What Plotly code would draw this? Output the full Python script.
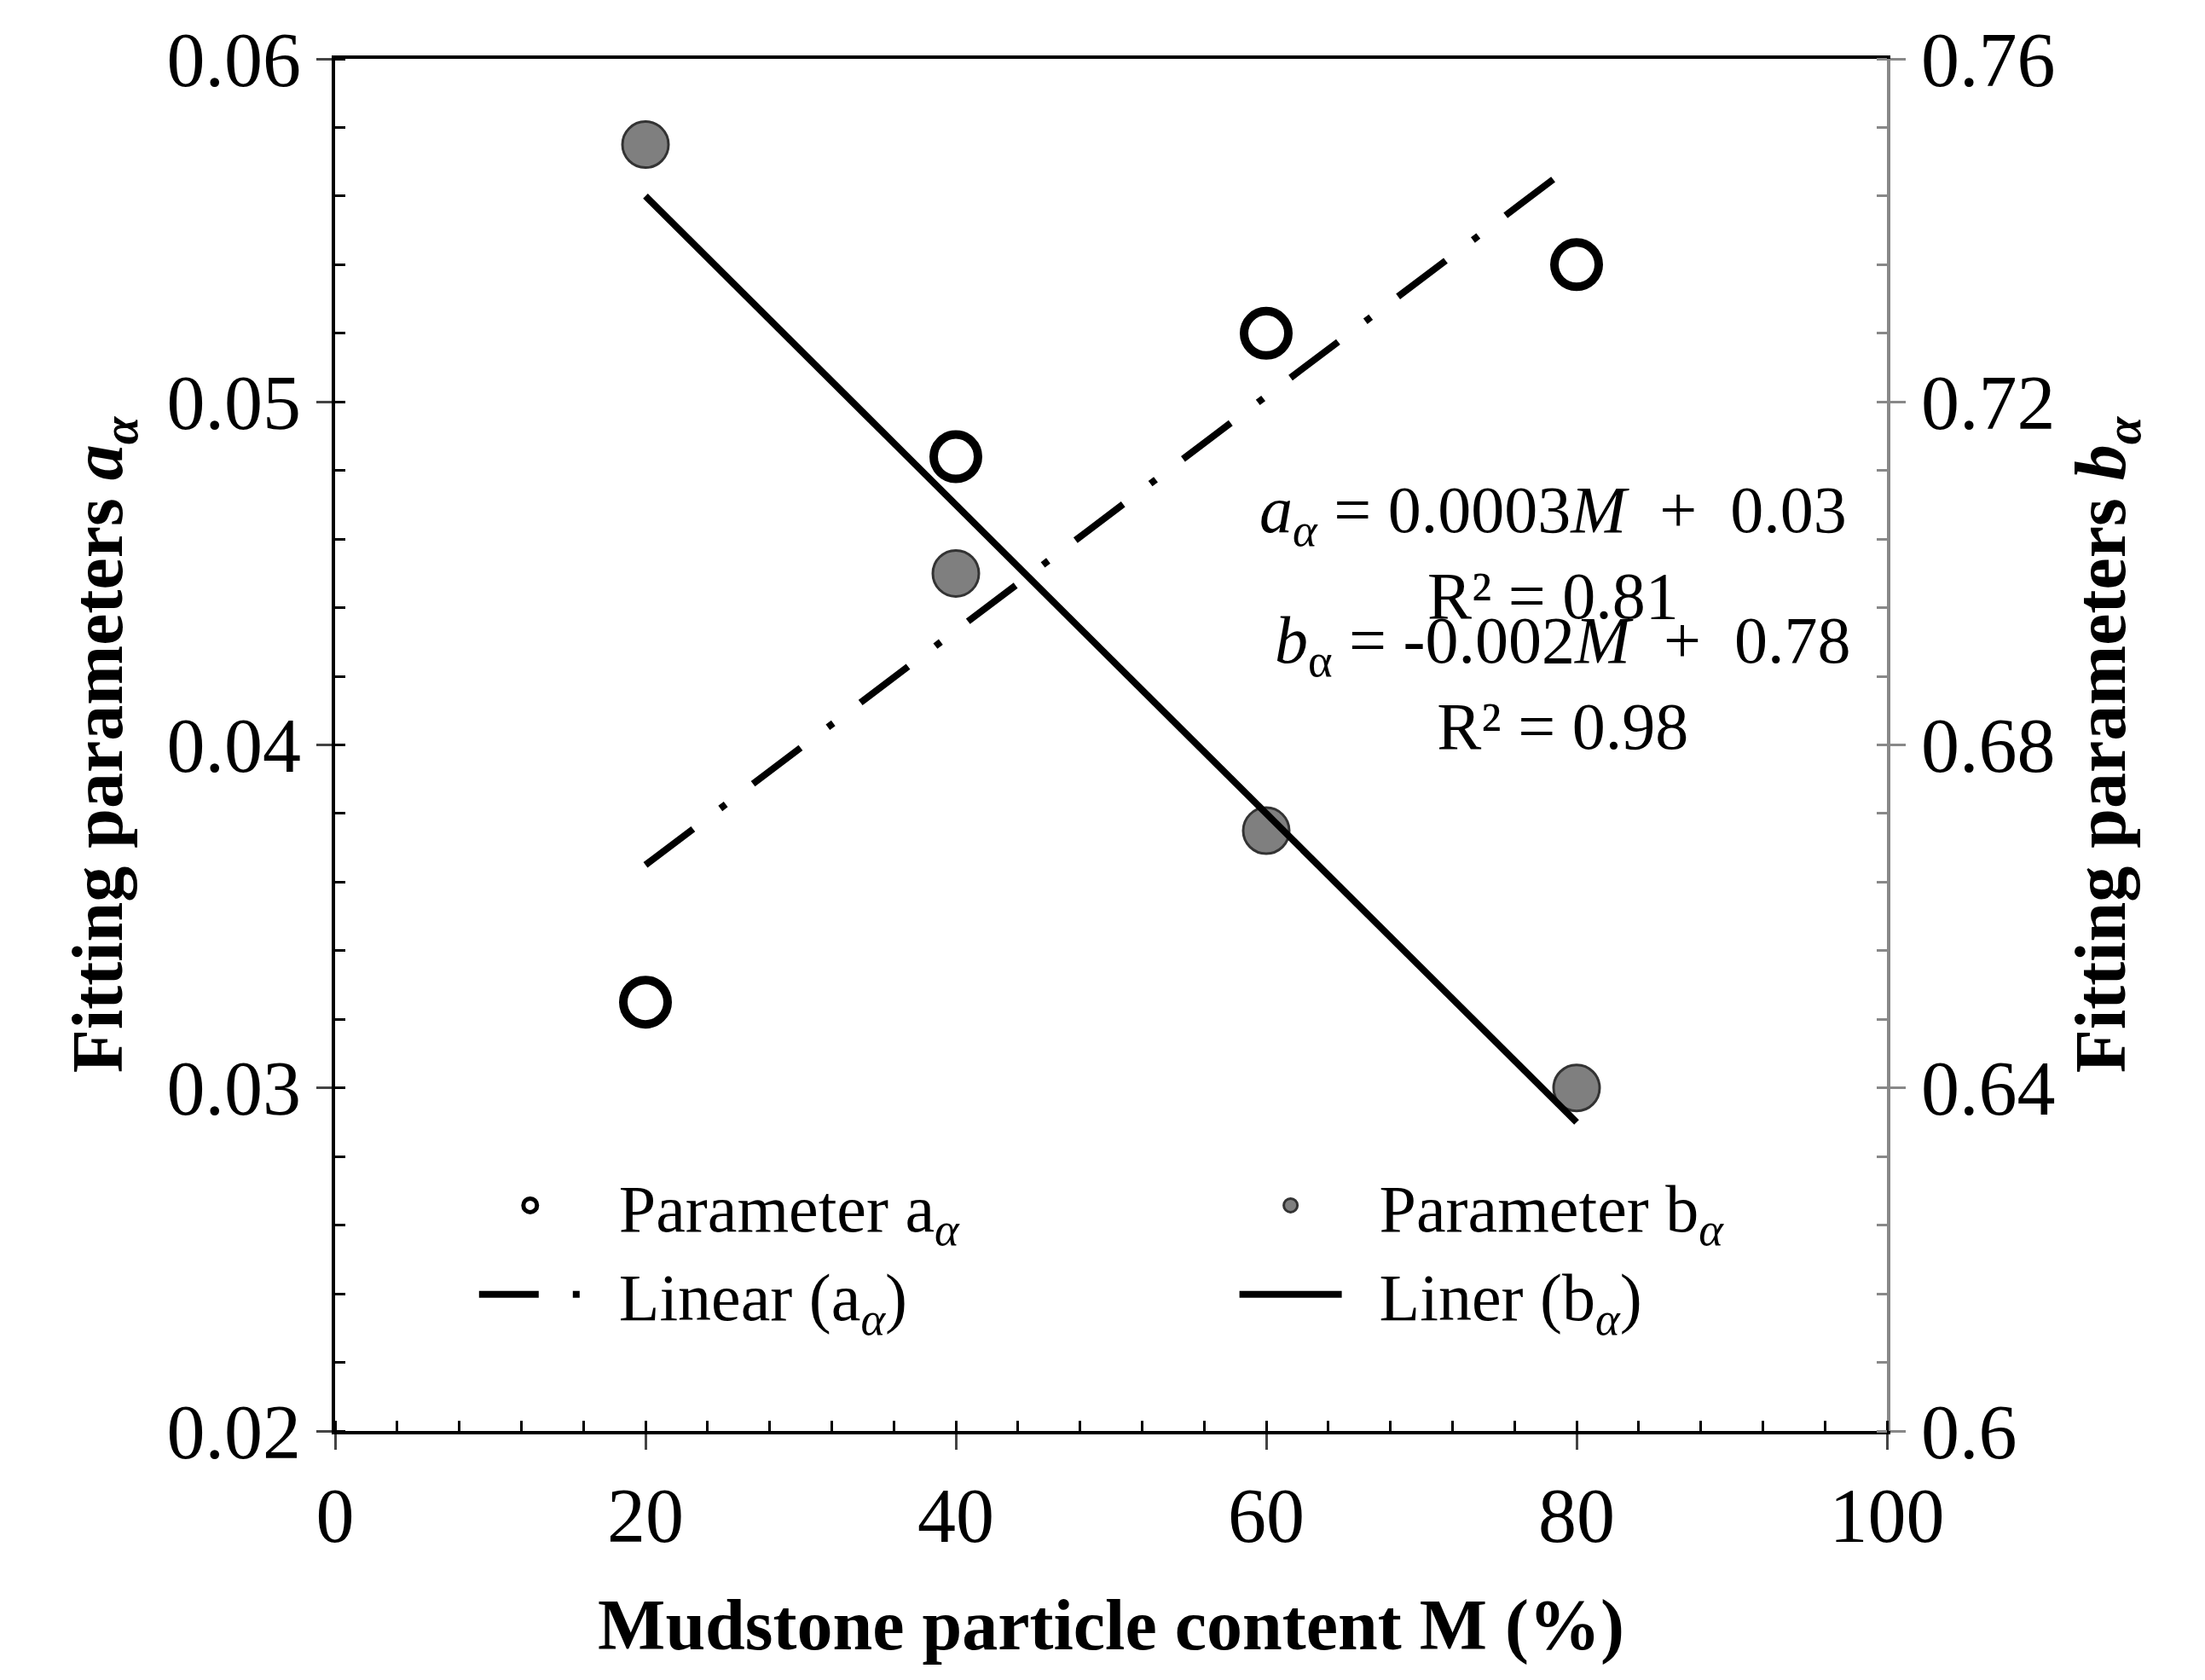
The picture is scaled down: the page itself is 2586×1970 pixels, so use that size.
import plotly.graph_objects as go

M = [20, 40, 60, 80]
a_vals = [0.0325, 0.0484, 0.052, 0.054]
b_vals = [0.750, 0.700, 0.670, 0.640]
fit_x = [20, 80]
a_fit = [0.0365, 0.057]
b_fit = [0.744, 0.636]

font = "Liberation Serif"
fig = go.Figure()
fig.add_trace(go.Scatter(x=M, y=a_vals, mode="markers", name="  Parameter a<sub><i>α</i></sub>",
                         marker=dict(size=52, color="white", line=dict(color="black", width=10))))
fig.add_trace(go.Scatter(x=M, y=b_vals, mode="markers", yaxis="y2", name="  Parameter b<sub><i>α</i></sub>",
                         marker=dict(size=54, color="#7f7f7f", line=dict(color="#333", width=3))))
fig.add_trace(go.Scatter(x=fit_x, y=a_fit, mode="lines", name="  Linear (a<sub><i>α</i></sub>)",
                         line=dict(color="black", width=8, dash="70px,40px,8px,40px")))
fig.add_trace(go.Scatter(x=fit_x, y=b_fit, mode="lines", yaxis="y2", name="  Liner (b<sub><i>α</i></sub>)",
                         line=dict(color="black", width=8)))

tick = dict(family=font, size=90, color="black")
title = dict(family=font, size=84, color="black", weight="bold")
fig.update_layout(
    width=2586, height=1970, plot_bgcolor="white", paper_bgcolor="white",
    margin=dict(l=385, r=381, t=55, b=300),
    font=dict(family=font, color="black"),
    xaxis=dict(range=[0, 100], dtick=20, showgrid=False, zeroline=False,
               showline=True, linecolor="black", linewidth=4, mirror=True,
               ticks="outside", ticklen=18, tickwidth=3, tickfont=tick,
               minor=dict(dtick=4, ticks="inside", ticklen=12, tickcolor="black"),
               title=dict(text="Mudstone particle content M (%)", font=title, standoff=50)),
    yaxis=dict(range=[0.02, 0.06], dtick=0.01, tickformat=".2f", showgrid=False, zeroline=False,
               showline=True, linecolor="black", linewidth=4,
               ticks="outside", ticklen=18, tickwidth=3, tickfont=tick,
               minor=dict(dtick=0.002, ticks="inside", ticklen=12, tickcolor="black"),
               title=dict(text="Fitting parameters <i>a<sub>α</sub></i>", font=title, standoff=25)),
    yaxis2=dict(range=[0.6, 0.76], tickvals=[0.6, 0.64, 0.68, 0.72, 0.76],
                ticktext=["0.6", "0.64", "0.68", "0.72", "0.76"],
                overlaying="y", side="right", showgrid=False, zeroline=False,
                showline=True, linecolor="#888", linewidth=4,
                ticks="outside", ticklen=18, tickwidth=3, tickcolor="#888", tickfont=tick,
                minor=dict(dtick=0.008, ticks="inside", ticklen=12, tickcolor="#888"),
                title=dict(text="Fitting parameters <i>b<sub>α</sub></i>", font=title, standoff=25)),
    legend=dict(orientation="h", x=0.09, y=0.2, xanchor="left", yanchor="top",
                entrywidth=0.49, entrywidthmode="fraction", itemwidth=120,
                tracegroupgap=20,
                font=dict(family=font, size=78, color="black"), bgcolor="rgba(0,0,0,0)"),
    showlegend=True,
)
fig.add_annotation(xref="paper", yref="paper", x=0.975, y=0.70, xanchor="right", showarrow=False,
                   align="center", font=dict(family=font, size=78, color="black"),
                   text="<i>a<sub>α</sub></i> = 0.0003<i>M</i>  +  0.03<br>R² = 0.81")
fig.add_annotation(xref="paper", yref="paper", x=0.978, y=0.545, xanchor="right", showarrow=False,
                   align="center", font=dict(family=font, size=78, color="black"),
                   text="<i>b</i><sub>α</sub> = -0.002<i>M</i>  +  0.78<br>R² = 0.98")
fig.write_html("out.html")
